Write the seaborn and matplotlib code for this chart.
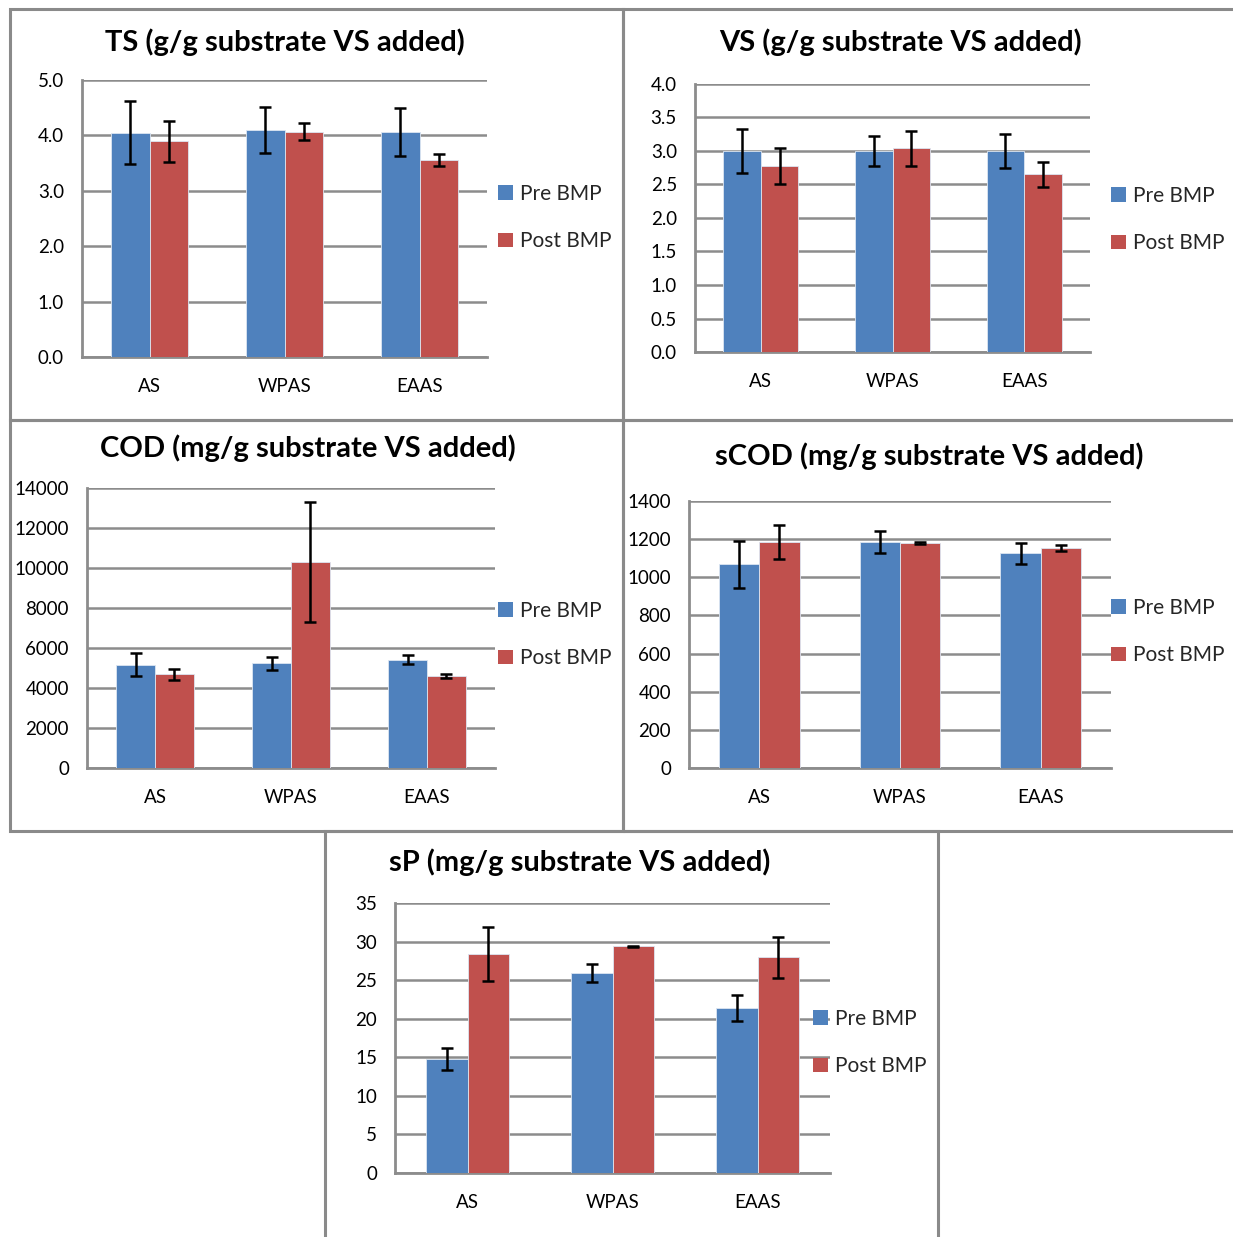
import numpy as np
import pandas as pd
import matplotlib
matplotlib.use("Agg")
import matplotlib.pyplot as plt
from matplotlib.patches import Patch, Rectangle
from matplotlib.ticker import FuncFormatter
import seaborn as sns

# ---- data -------------------------------------------------------------
categories = ["AS", "WPAS", "EAAS"]
phases = ["Pre BMP", "Post BMP"]

ts_pre = [4.05, 4.10, 4.06]
ts_post = [3.89, 4.07, 3.55]
ts_pre_err = [0.57, 0.42, 0.43]
ts_post_err = [0.37, 0.15, 0.11]

vs_pre = [3.00, 3.00, 3.00]
vs_post = [2.78, 3.04, 2.65]
vs_pre_err = [0.33, 0.23, 0.25]
vs_post_err = [0.27, 0.26, 0.19]

cod_pre = [5170, 5250, 5420]
cod_post = [4680, 10300, 4600]
cod_pre_err = [585, 325, 225]
cod_post_err = [285, 2985, 85]

scod_pre = [1068, 1186, 1125]
scod_post = [1184, 1179, 1154]
scod_pre_err = [122, 58, 54]
scod_post_err = [89, 7, 15]

sp_pre = [14.8, 25.95, 21.4]
sp_post = [28.4, 29.4, 27.95]
sp_pre_err = [1.4, 1.13, 1.69]
sp_post_err = [3.45, 0.08, 2.62]

titles = [
    "TS (g/g substrate VS added)",
    "VS (g/g substrate VS added)",
    "COD (mg/g substrate VS added)",
    "sCOD (mg/g substrate VS added)",
    "sP (mg/g substrate VS added)",
]

# ---- styling ----------------------------------------------------------
sns.set_theme(style="white")
plt.rcParams["font.family"] = ["Lato", "DejaVu Sans"]

BLUE = "#4F81BD"
RED = "#C0504D"
GRID = "#8C8C8C"
W, H = 1233, 1237

fig = plt.figure(figsize=(W / 100, H / 100), dpi=100)


def frac(left, top, right, bottom):
    return [left / W, 1 - bottom / H, (right - left) / W, (bottom - top) / H]


# panel frames (pixel coordinates: left, top, right, bottom)
frames = [
    (10, 9, 623, 420),
    (623, 9, 1240, 420),
    (10, 420, 623, 831),
    (623, 420, 1240, 831),
    (325, 831, 938, 1245),
]
for l, t, r, b in frames:
    fig.add_artist(Rectangle((l / W, 1 - b / H), (r - l) / W, (b - t) / H,
                             transform=fig.transFigure, fill=False,
                             edgecolor="#8A8A8A", linewidth=2.2, zorder=0))

panels = [
    dict(pre=ts_pre, post=ts_post, pe=ts_pre_err, qe=ts_post_err,
         box=(82, 80, 487, 357), ymax=5.0, step=1.0, fmt="{:.1f}",
         title_xy=(285, 42), leg_xy=(498, 194)),
    dict(pre=vs_pre, post=vs_post, pe=vs_pre_err, qe=vs_post_err,
         box=(695, 84, 1090, 352), ymax=4.0, step=0.5, fmt="{:.1f}",
         title_xy=(900, 42), leg_xy=(1111, 196)),
    dict(pre=cod_pre, post=cod_post, pe=cod_pre_err, qe=cod_post_err,
         box=(87, 488, 495, 768), ymax=14000, step=2000, fmt="{:.0f}",
         title_xy=(308, 448), leg_xy=(498, 611)),
    dict(pre=scod_pre, post=scod_post, pe=scod_pre_err, qe=scod_post_err,
         box=(689, 501, 1111, 768), ymax=1400, step=200, fmt="{:.0f}",
         title_xy=(929, 456), leg_xy=(1111, 608)),
    dict(pre=sp_pre, post=sp_post, pe=sp_pre_err, qe=sp_post_err,
         box=(395, 903, 830, 1173), ymax=35, step=5, fmt="{:.0f}",
         title_xy=(580, 862), leg_xy=(813, 1019)),
]

for p, title in zip(panels, titles):
    ax = fig.add_axes(frac(*p["box"]))
    df = pd.DataFrame({
        "category": categories * 2,
        "phase": [phases[0]] * 3 + [phases[1]] * 3,
        "value": list(p["pre"]) + list(p["post"]),
    })
    sns.barplot(data=df, x="category", y="value", hue="phase",
                order=categories, hue_order=phases,
                palette=[BLUE, RED], width=0.5714, gap=0,
                errorbar=None, saturation=1, legend=False, ax=ax,
                edgecolor="#DCE6F2", linewidth=0.6, zorder=3)

    # error bars on top of each bar
    for cont, errs in zip(ax.containers, [p["pe"], p["qe"]]):
        xs = [b.get_x() + b.get_width() / 2 for b in cont]
        ys = [b.get_height() for b in cont]
        ax.errorbar(xs, ys, yerr=errs, fmt="none", ecolor="black",
                    elinewidth=1.8, capsize=4.3, capthick=1.8, zorder=5)

    ax.set_xlim(-0.5, 2.5)
    ax.set_ylim(0, p["ymax"])
    ax.set_yticks(np.arange(0, p["ymax"] + p["step"] / 2, p["step"]))
    fmt = p["fmt"]
    ax.yaxis.set_major_formatter(FuncFormatter(lambda v, _, f=fmt: f.format(v)))
    ax.grid(axis="y", color=GRID, linewidth=1.8, zorder=0)
    ax.set_axisbelow(True)
    for side in ("top", "right"):
        ax.spines[side].set_visible(False)
    for side in ("left", "bottom"):
        ax.spines[side].set_color(GRID)
        ax.spines[side].set_linewidth(2.0)
    ax.tick_params(axis="y", length=0, pad=13, labelsize=13.5, labelcolor="black")
    ax.tick_params(axis="x", length=0, pad=15, labelsize=13.5, labelcolor="black")
    ax.set_xlabel("")
    ax.set_ylabel("")

    tx, ty = p["title_xy"]
    fig.text(tx / W, 1 - ty / H, title, ha="center", va="center",
             fontsize=21, fontweight="bold", color="black")

    lx, ly = p["leg_xy"]
    handles = [Patch(facecolor=BLUE, edgecolor="none"),
               Patch(facecolor=RED, edgecolor="none")]
    fig.legend(handles, phases, loc="upper left",
               bbox_to_anchor=(lx / W, 1 - (ly - 10) / H),
               frameon=False, fontsize=15, handlelength=0.7,
               handleheight=0.7, handletextpad=0.35, labelspacing=1.3,
               borderaxespad=0, borderpad=0)

fig.savefig("out.png", dpi=100)
